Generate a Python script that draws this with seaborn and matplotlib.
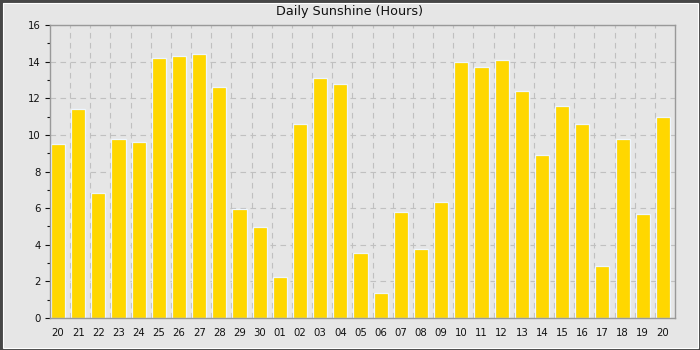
#!/usr/bin/env python3

import matplotlib

matplotlib.use("Agg")

import matplotlib.pyplot as plt
import pandas as pd
import seaborn as sns
from matplotlib.patches import Rectangle
from matplotlib.ticker import FixedLocator, MultipleLocator

# one bar per day, 20th of one month to the 20th of the next
dates = [d.strftime("%Y-%m-%d") for d in pd.date_range("2023-06-20", "2023-07-20")]
day_labels = [d[-2:] for d in dates]
hours = [
    9.48, 11.40, 6.80, 9.78, 9.62, 14.20, 14.33, 14.44, 12.61, 5.97, 4.99,
    2.25, 10.58, 13.10, 12.79, 3.57, 1.38, 5.77, 3.79, 6.36, 13.98,
    13.73, 14.09, 12.39, 8.88, 11.57, 10.58, 2.86, 9.78, 5.67, 10.96,
]

BG = "#e6e6e6"
GRID = "#c0c0c0"
SPINE = "#999999"
BAR = "#ffd700"


def main() -> None:
    sns.set_style(
        "white",
        {
            "axes.facecolor": BG,
            "figure.facecolor": BG,
            "axes.edgecolor": SPINE,
            "font.family": ["DejaVu Sans"],
        },
    )

    df = pd.DataFrame({"date": dates, "hours": hours})

    fig, ax = plt.subplots(figsize=(7, 3.5), dpi=100)
    fig.subplots_adjust(left=50 / 700, right=675 / 700, top=1 - 25 / 350, bottom=1 - 318 / 350)

    sns.barplot(
        data=df,
        x="date",
        y="hours",
        order=dates,
        color=BAR,
        saturation=1,
        width=0.7,
        edgecolor="#eef6ff",
        linewidth=0.9,
        ax=ax,
    )

    ax.set_xlim(-0.4, len(dates) - 0.4)
    ax.set_ylim(0, 16)
    ax.set_xticks(range(len(dates)))
    ax.set_xticklabels(day_labels)
    ax.set_xlabel("")
    ax.set_ylabel("")
    # title is centred on the whole image, not on the axes
    fig.text(0.5, 1 - 12 / 350, "Daily Sunshine (Hours)", ha="center", va="center",
             fontsize=9.2, color="#111111")

    # dashed grid: vertical lines between days, horizontal at even hours
    ax.xaxis.set_minor_locator(FixedLocator([i + 0.6 for i in range(len(dates) - 1)]))
    ax.yaxis.set_major_locator(MultipleLocator(2))
    ax.yaxis.set_minor_locator(MultipleLocator(1))
    ax.set_axisbelow(True)
    ax.grid(False)
    ax.xaxis.grid(True, which="minor", color=GRID, linestyle=(0, (5, 4)), linewidth=0.8)
    ax.yaxis.grid(True, which="major", color=GRID, linestyle=(0, (5, 4)), linewidth=0.8)

    ax.tick_params(axis="x", which="both", length=0, pad=7, labelsize=7.3, colors="#111111")
    ax.tick_params(axis="y", which="major", length=3.6, width=0.8, pad=3, labelsize=7.3,
                   colors="#111111", left=True)
    ax.tick_params(axis="y", which="minor", length=2.2, width=0.8, color="#111111", left=True)
    for side in ["top", "right", "bottom", "left"]:
        ax.spines[side].set_visible(True)
        ax.spines[side].set_color(SPINE)
        ax.spines[side].set_linewidth(1.0)

    # dark frame with a thin white inner line
    fig.add_artist(Rectangle((0, 0), 1, 1, transform=fig.transFigure, fill=False,
                             edgecolor="#474747", linewidth=3.6))
    fig.add_artist(Rectangle((2.5 / 700, 2.5 / 350), 1 - 5 / 700, 1 - 5 / 350,
                             transform=fig.transFigure, fill=False,
                             edgecolor="white", linewidth=0.8))

    fig.savefig("out.png", dpi=100, facecolor=BG)


if __name__ == "__main__":
    main()
